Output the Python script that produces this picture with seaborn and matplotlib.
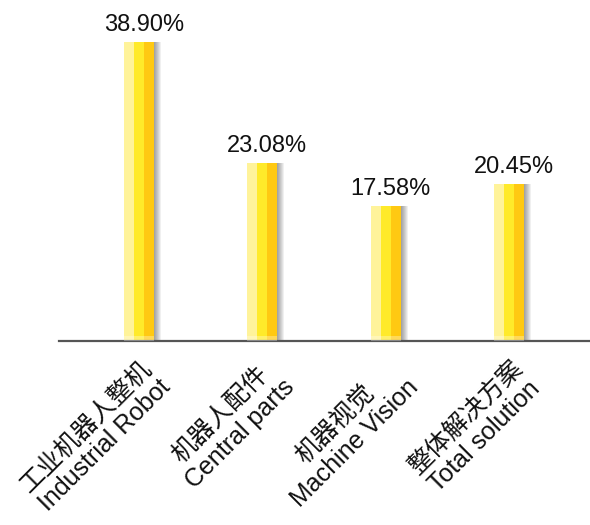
import matplotlib
matplotlib.use("Agg")
import matplotlib.pyplot as plt
import matplotlib.transforms as mtransforms
import numpy as np
import pandas as pd
import seaborn as sns

# chart data
categories = ["工业机器人整机\nIndustrial Robot", "机器人配件\nCentral parts",
              "机器视觉\nMachine Vision", "整体解决方案\nTotal solution"]
shares = [38.90, 23.08, 17.58, 20.45]
value_labels = ["38.90%", "23.08%", "17.58%", "20.45%"]
stripes = ["light", "mid", "dark"]
stripe_colors = ["#FFF39A", "#FFEA2A", "#FFC912"]

sns.set_theme(style="white")
plt.rcParams["font.family"] = ["Liberation Sans", "Noto Sans CJK SC", "DejaVu Sans"]

# long form: each bar is three vertical stripes
df = pd.DataFrame([(c, s, v) for c, v in zip(categories, shares) for s in stripes],
                  columns=["category", "stripe", "share"])

fig = plt.figure(figsize=(5.9, 5.25), dpi=100)
ax = fig.add_axes([0.1, 0.3505, 0.9, 0.6495])

bar_w = 0.243
px = 1 / 123.5  # data units per pixel along x
xs = np.arange(len(categories))

# soft shadow on the right of each bar
for k in range(7):
    ax.bar(xs + bar_w / 2, shares, width=(k + 1) * px, align="edge",
           color="#000000", alpha=0.06, linewidth=0, zorder=1)

sns.barplot(data=df, x="category", y="share", hue="stripe", palette=stripe_colors,
            width=bar_w, gap=0, dodge=True, saturation=1, errorbar=None,
            legend=False, linewidth=0, ax=ax, zorder=2)

# lighter band at the foot of the bars
ax.bar(xs, [0.6] * len(xs), width=bar_w, color="white", alpha=0.3, linewidth=0, zorder=3)

for i, (v, t) in enumerate(zip(shares, value_labels)):
    ax.annotate(t, (i, v), xytext=(5, 11), textcoords="offset pixels",
                ha="center", va="baseline", fontsize=17, color="#111111")

ax.set_xlim(-0.645, 3.655)
ax.set_ylim(0, 44.34)
ax.set_yticks([])
ax.set_xlabel("")
ax.set_ylabel("")
ax.set_xticks(xs)
ax.set_xticklabels(categories, rotation=45, ha="right", va="top", rotation_mode="anchor",
                   multialignment="center", fontsize=18, linespacing=1.15,
                   color="#111111", fontweight="light")
ax.tick_params(axis="x", length=0, pad=0)
offset = mtransforms.ScaledTranslation(0.01, -0.15, fig.dpi_scale_trans)
for lbl in ax.get_xticklabels():
    lbl.set_transform(lbl.get_transform() + offset)

for side in ["left", "right", "top"]:
    ax.spines[side].set_visible(False)
ax.spines["bottom"].set_color("#555555")
ax.spines["bottom"].set_linewidth(1.6)

fig.savefig("out.png", dpi=100)
